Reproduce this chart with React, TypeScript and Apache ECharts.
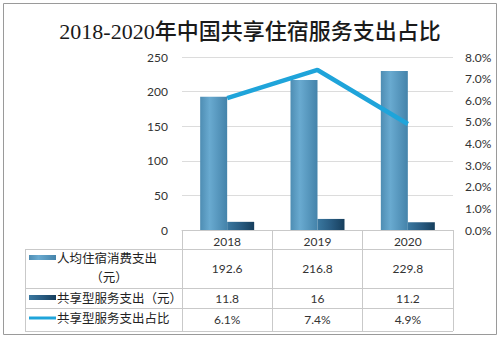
import { useEffect, useRef } from "react";
import * as echarts from "echarts";

const years = ["2018", "2019", "2020"];
const perCapitaLodging = [192.6, 216.8, 229.8];
const sharedService = [11.8, 16, 11.2];
const sharedRatio = [6.1, 7.4, 4.9];

const seriesNames = ["人均住宿消费支出（元）", "共享型服务支出（元）", "共享型服务支出占比"];

const SANS = "Lato, 'Noto Sans CJK SC', sans-serif";
const TITLE_FONT = "'Liberation Serif', 'Noto Sans CJK SC', serif";
const GRID_LEFT = 182;
const GRID_RIGHT = 47;
const GRID_TOP = 57;
const GRID_BOTTOM_Y = 230;
const TABLE_LEFT = 25;
const ROW_LINES = [249, 288, 308, 331];
const LINE_COLOR = "#c9c9c9";

export default function App() {
  const ref = useRef<HTMLDivElement>(null);
  useEffect(() => {
    if (!ref.current) return;
    const chart = echarts.init(ref.current, null, { renderer: "svg" });
    const bigBar = new echarts.graphic.LinearGradient(0, 0, 1, 0, [
      { offset: 0, color: "#4e8db3" },
      { offset: 0.35, color: "#69aad0" },
      { offset: 1, color: "#4483aa" },
    ]);
    const smallBar = new echarts.graphic.LinearGradient(0, 0, 1, 0, [
      { offset: 0, color: "#3a78a0" },
      { offset: 0.5, color: "#295c82" },
      { offset: 1, color: "#163e5c" },
    ]);
    chart.setOption({
      animation: false,
      backgroundColor: "#ffffff",
      title: {
        text: "2018-2020年中国共享住宿服务支出占比",
        left: "center",
        top: 15,
        textStyle: { fontSize: 22, fontFamily: TITLE_FONT, fontWeight: 500, color: "#1a1a1a" },
      },
      grid: { left: GRID_LEFT, right: GRID_RIGHT, top: GRID_TOP, height: GRID_BOTTOM_Y - GRID_TOP },
      xAxis: {
        type: "category",
        data: years,
        axisLine: { lineStyle: { color: LINE_COLOR } },
        axisTick: { show: true, length: ROW_LINES[3] - GRID_BOTTOM_Y, lineStyle: { color: LINE_COLOR } },
        axisLabel: { margin: 5, fontSize: 12, fontFamily: SANS, color: "#333" },
      },
      yAxis: [
        {
          type: "value",
          min: 0,
          max: 250,
          interval: 50,
          axisLine: { show: false },
          axisTick: { show: false },
          splitLine: { lineStyle: { color: "#dcdcdc" } },
          axisLabel: { margin: 14, fontSize: 12, fontFamily: SANS, color: "#333" },
        },
        {
          type: "value",
          min: 0,
          max: 8,
          interval: 1,
          axisLine: { show: false },
          axisTick: { show: false },
          splitLine: { show: false },
          axisLabel: {
            margin: 12,
            fontSize: 12,
            fontFamily: SANS,
            color: "#333",
            formatter: (v: number) => v.toFixed(1) + "%",
          },
        },
      ],
      series: [
        {
          name: seriesNames[0],
          type: "bar",
          data: perCapitaLodging,
          barWidth: 27,
          barGap: "0%",
          itemStyle: { color: bigBar },
        },
        {
          name: seriesNames[1],
          type: "bar",
          data: sharedService,
          barWidth: 27,
          barGap: "0%",
          itemStyle: { color: smallBar },
        },
        {
          name: seriesNames[2],
          type: "line",
          yAxisIndex: 1,
          data: sharedRatio,
          symbol: "none",
          lineStyle: { color: "#1fa4da", width: 4.5 },
        },
      ],
    });

    const centers = years.map((y) => chart.convertToPixel({ xAxisIndex: 0 }, y) as number);
    const right = 500 - GRID_RIGHT;
    const graphics: any[] = [];
    graphics.push({
      type: "rect",
      shape: { x: 3.5, y: 3.5, width: 493, height: 331 },
      style: { fill: "none", stroke: "#9a9a9a", lineWidth: 1 },
      silent: true,
    });
    ROW_LINES.forEach((y) => {
      graphics.push({
        type: "line",
        shape: { x1: TABLE_LEFT, y1: y + 0.5, x2: right, y2: y + 0.5 },
        style: { stroke: LINE_COLOR, lineWidth: 1 },
      });
    });
    graphics.push({
      type: "line",
      shape: { x1: TABLE_LEFT + 0.5, y1: ROW_LINES[0], x2: TABLE_LEFT + 0.5, y2: ROW_LINES[3] },
      style: { stroke: LINE_COLOR, lineWidth: 1 },
    });
    graphics.push({
      type: "rect",
      shape: { x: 29, y: 255, width: 27, height: 5 },
      style: { fill: bigBar },
    });
    graphics.push({
      type: "rect",
      shape: { x: 29, y: 295, width: 27, height: 5 },
      style: { fill: smallBar },
    });
    graphics.push({
      type: "line",
      shape: { x1: 29, y1: 318, x2: 56, y2: 318 },
      style: { stroke: "#1fa4da", lineWidth: 3 },
    });
    const rowText = (text: string, x: number, y: number, align = "left") => ({
      type: "text",
      x,
      y,
      style: { text, fill: "#222", fontSize: 12.5, fontFamily: SANS, align, verticalAlign: "middle" },
    });
    graphics.push(rowText("人均住宿消费支出", 57, 258));
    graphics.push(rowText("（元）", 109, 277, "center"));
    graphics.push(rowText(seriesNames[1], 57, 298));
    graphics.push(rowText(seriesNames[2], 57, 318));
    const rowsY = [268.5, 298, 319.5];
    const rows = [
      perCapitaLodging.map((v) => String(v)),
      sharedService.map((v) => String(v)),
      sharedRatio.map((v) => v.toFixed(1) + "%"),
    ];
    rows.forEach((vals, r) => {
      vals.forEach((t, i) => {
        graphics.push({
          type: "text",
          x: centers[i],
          y: rowsY[r],
          style: { text: t, fill: "#333", fontSize: 12, fontFamily: SANS, align: "center", verticalAlign: "middle" },
        });
      });
    });
    chart.setOption({ graphic: graphics });

    return () => chart.dispose();
  }, []);
  return (
    <div
      ref={ref}
      style={{ position: "fixed", left: 0, top: 0, width: 500, height: 341 }}
    />
  );
}
